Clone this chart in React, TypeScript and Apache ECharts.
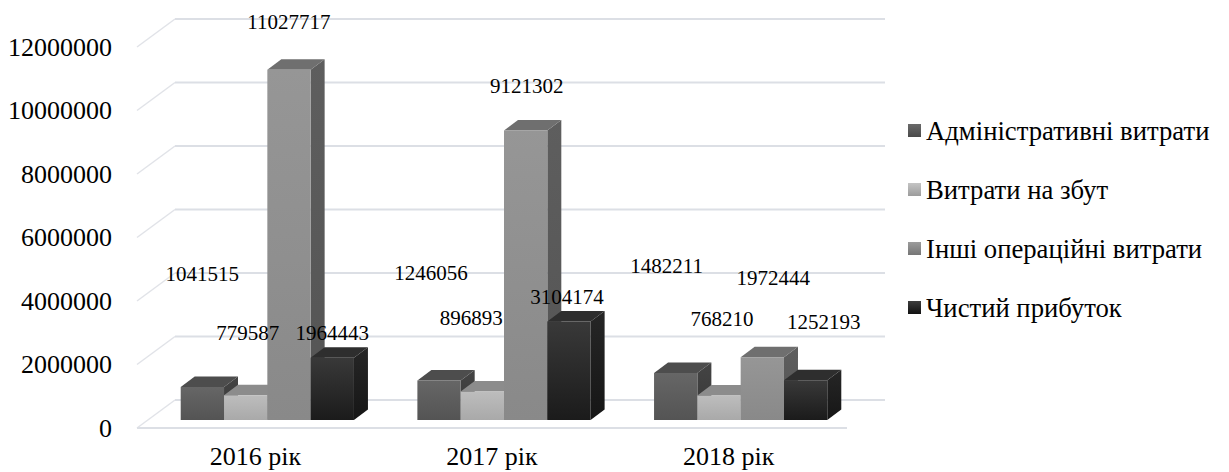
import React, { useEffect, useRef } from "react";
import * as echarts from "echarts";

// Categories and values (UAH)
const years = ["2016 рік", "2017 рік", "2018 рік"];
const seriesNames = [
  "Адміністративні витрати",
  "Витрати на збут",
  "Інші операційні витрати",
  "Чистий прибуток",
];
const adminCosts = [1041515, 1246056, 1482211];
const sellingCosts = [779587, 896893, 768210];
const otherOpCosts = [11027717, 9121302, 1972444];
const netProfit = [1964443, 3104174, 1252193];
const yTicks = [0, 2000000, 4000000, 6000000, 8000000, 10000000, 12000000];

// Per-label nudges (px) relative to the top-front centre of each bar
const labelShift: number[][][] = [
  [[0, -113], [-8, -107], [-9, -107]],
  [[2, -62], [-11, -74], [3, -77]],
  [[0, -48], [1, -44], [11, -79]],
  [[0, -25], [-2, -24], [18, -58]],
];

// Faces of each bar: front gradient (top, bottom), top face, side face
const faces = [
  { front: ["#666666", "#545454"], top: "#4d4d4d", side: ["#444444", "#383838"] },
  { front: ["#bdbdbd", "#a9a9a9"], top: "#8c8c8c", side: ["#808080", "#707070"] },
  { front: ["#969696", "#898989"], top: "#6f6f6f", side: ["#5e5e5e", "#545454"] },
  { front: ["#393939", "#1b1b1b"], top: "#2e2e2e", side: ["#262626", "#161616"] },
];
const legendColors = [
  ["#6a6a6a", "#4a4a4a"],
  ["#c4c4c4", "#9c9c9c"],
  ["#9c9c9c", "#767676"],
  ["#3e3e3e", "#111111"],
];

const FONT = "Liberation Serif, Times New Roman, serif";
const WALL_DX = 38; // receding depth of the floor / side wall
const WALL_DY = 28;
const BAR_SHIFT_X = 12; // bars sit a bit behind the front edge
const BAR_SHIFT_Y = 8;
const BAR_DX = 14; // bar depth
const BAR_DY = 10.5;
const BAR_FRAC = 0.183; // bar width as a share of the category band

export default function App() {
  const ref = useRef<HTMLDivElement>(null);

  useEffect(() => {
    if (!ref.current) return;
    const chart = echarts.init(ref.current, undefined, { renderer: "svg" });
    const allValues = [adminCosts, sellingCosts, otherOpCosts, netProfit];

    // Back wall gridlines, left side-wall diagonals and the floor's front edge
    const wallSeries = {
      type: "custom",
      name: "wall",
      silent: true,
      z: 1,
      clip: false,
      data: yTicks.map((v) => [0, v]),
      renderItem: (params: any, api: any) => {
        const cs = params.coordSys;
        const v = api.value(1);
        const y = api.coord([0, v])[1];
        const stroke = "#dcdfe5";
        const children: any[] = [
          {
            type: "line",
            shape: { x1: cs.x, y1: y, x2: cs.x + WALL_DX, y2: y - WALL_DY },
            style: { stroke: "#e1e3e8", lineWidth: 1.5 },
          },
          {
            type: "line",
            shape: {
              x1: cs.x + WALL_DX,
              y1: y - WALL_DY,
              x2: cs.x + cs.width + WALL_DX,
              y2: y - WALL_DY,
            },
            style: { stroke, lineWidth: 2 },
          },
        ];
        if (v === 0) {
          children.push({
            type: "line",
            shape: { x1: cs.x, y1: y, x2: cs.x + cs.width, y2: y },
            style: { stroke, lineWidth: 2 },
          });
        }
        return { type: "group", children };
      },
    };

    // One custom series per indicator: side face, top face, front face, value label
    const barSeries = allValues.map((vals, s) => ({
      type: "custom",
      name: seriesNames[s],
      silent: true,
      z: 2,
      clip: false,
      itemStyle: {
        color: new echarts.graphic.LinearGradient(0, 0, 0, 1, [
          { offset: 0, color: legendColors[s][0] },
          { offset: 1, color: legendColors[s][1] },
        ]),
      },
      data: vals.map((v, i) => [i, v]),
      renderItem: (params: any, api: any) => {
        const cat = api.value(0);
        const v = api.value(1);
        const base = api.coord([cat, 0]);
        const top = api.coord([cat, v]);
        const band = api.size([1, 0])[0];
        const bw = band * BAR_FRAC;
        const x0 = base[0] + BAR_SHIFT_X + (s - 2) * bw;
        const x1 = x0 + bw;
        const yb = base[1] - BAR_SHIFT_Y;
        const yt = top[1] - BAR_SHIFT_Y;
        const f = faces[s];
        const shift = labelShift[s][params.dataIndex];
        return {
          type: "group",
          children: [
            {
              type: "polygon",
              shape: {
                points: [
                  [x1, yt],
                  [x1 + BAR_DX, yt - BAR_DY],
                  [x1 + BAR_DX, yb - BAR_DY],
                  [x1, yb],
                ],
              },
              style: {
                fill: new echarts.graphic.LinearGradient(0, 0, 0, 1, [
                  { offset: 0, color: f.side[0] },
                  { offset: 1, color: f.side[1] },
                ]),
              },
            },
            {
              type: "polygon",
              shape: {
                points: [
                  [x0, yt],
                  [x1, yt],
                  [x1 + BAR_DX, yt - BAR_DY],
                  [x0 + BAR_DX, yt - BAR_DY],
                ],
              },
              style: { fill: f.top },
            },
            {
              type: "rect",
              shape: { x: x0, y: yt, width: bw, height: yb - yt },
              style: {
                fill: new echarts.graphic.LinearGradient(0, 0, 0, 1, [
                  { offset: 0, color: f.front[0] },
                  { offset: 1, color: f.front[1] },
                ]),
              },
            },
            {
              type: "text",
              z2: 100,
              style: {
                x: (x0 + x1) / 2 + shift[0],
                y: yt + shift[1],
                text: String(v),
                fill: "#000000",
                fontFamily: FONT,
                fontSize: 21,
                align: "center",
                verticalAlign: "middle",
              },
            },
          ],
        };
      },
    }));

    chart.setOption({
      animation: false,
      backgroundColor: "#ffffff",
      textStyle: { fontFamily: FONT },
      grid: { left: 137, top: 47, width: 710, height: 381, containLabel: false },
      xAxis: {
        type: "category",
        data: years,
        axisLine: { show: false },
        axisTick: { show: false },
        axisLabel: {
          margin: 15,
          fontFamily: FONT,
          fontSize: 26,
          color: "#000000",
        },
      },
      yAxis: {
        type: "value",
        min: 0,
        max: 12000000,
        interval: 2000000,
        axisLine: { show: false },
        axisTick: { show: false },
        splitLine: { show: false },
        axisLabel: {
          margin: 25,
          fontFamily: FONT,
          fontSize: 26,
          color: "#000000",
          formatter: (v: number) => String(v),
        },
      },
      legend: {
        data: seriesNames,
        orient: "vertical",
        left: 908,
        top: 117,
        padding: 0,
        itemWidth: 13,
        itemHeight: 13,
        itemGap: 32,
        icon: "rect",
        selectedMode: false,
        textStyle: {
          fontFamily: FONT,
          fontSize: 26.7,
          lineHeight: 27,
          color: "#000000",
        },
      },
      series: [wallSeries, ...barSeries],
    });

    return () => chart.dispose();
  }, []);

  return (
    <div
      ref={ref}
      style={{ position: "fixed", left: 0, top: 0, width: 1229, height: 472 }}
    />
  );
}
